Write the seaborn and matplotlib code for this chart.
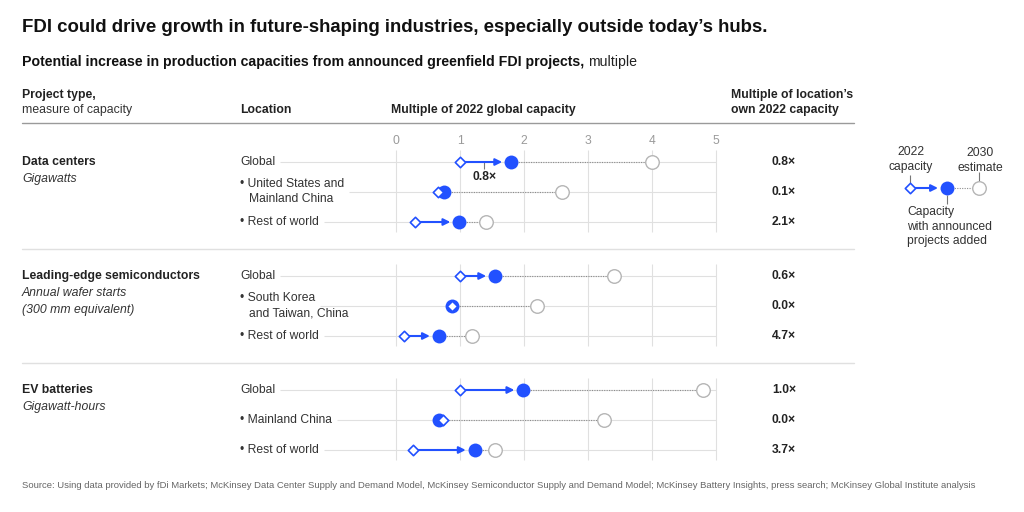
import numpy as np
import pandas as pd
import matplotlib
matplotlib.use("Agg")
import matplotlib.pyplot as plt
import seaborn as sns

# ---- data --------------------------------------------------------------
project_types = ["Data centers", "Leading-edge semiconductors", "EV batteries"]
capacity_units = [["Gigawatts"],
                  ["Annual wafer starts", "(300 mm equivalent)"],
                  ["Gigawatt-hours"]]
locations = [["Global"], ["• United States and", "Mainland China"], ["• Rest of world"],
             ["Global"], ["• South Korea", "and Taiwan, China"], ["• Rest of world"],
             ["Global"], ["• Mainland China"], ["• Rest of world"]]
group_of_row = [0, 0, 0, 1, 1, 1, 2, 2, 2]
cap_2022 = [1.0, 0.66, 0.3, 1.0, 0.87, 0.12, 1.0, 0.73, 0.26]
cap_added = [1.8, 0.75, 0.99, 1.55, 0.87, 0.67, 1.99, 0.67, 1.23]
est_2030 = [4.0, 2.6, 1.4, 3.4, 2.2, 1.18, 4.8, 3.25, 1.55]
own_multiple = ["0.8×", "0.1×", "2.1×", "0.6×", "0.0×", "4.7×", "1.0×", "0.0×", "3.7×"]
x_ticks = [0, 1, 2, 3, 4, 5]

BLUE = "#2251FF"
GREY = "#b5b5b5"
LINE = "#e0e0e0"
TXT = "#222222"
W, H = 1024, 512

sns.set_theme(style="white")
plt.rcParams["font.family"] = ["Liberation Sans", "DejaVu Sans"]


def px(x):
    return x / W


def py(y):
    return 1 - y / H


# row layout: 3 rows per group, groups separated by a gap
row_in_group = [0, 1, 2] * 3
slot = np.array([g * 3.8 + r for g, r in zip(group_of_row, row_in_group)])

frame = pd.DataFrame({"slot": slot, "c2022": cap_2022, "added": cap_added,
                      "est": est_2030})

fig = plt.figure(figsize=(W / 100, H / 100), dpi=100)
fig.patch.set_facecolor("white")
ax = fig.add_axes([0, 0, 1, 1])
ax.set_xlim(-396 / 64, (W - 396) / 64)
ax.set_ylim((H - 162) / 30, -162 / 30)
ax.axis("off")


def to_slot(ypix):
    return (ypix - 162) / 30


# ---- titles and headers -----------------------------------------------------
fig.text(px(22), py(28), "FDI could drive growth in future-shaping industries, "
         "especially outside today\u2019s hubs.", fontsize=13.4, weight="bold",
         color="#111111", va="center")
sub = fig.text(px(22), py(62), "Potential increase in production capacities from "
               "announced greenfield FDI projects,", fontsize=10.2, weight="bold",
               color="#111111", va="center")
fig.canvas.draw()
renderer = fig.canvas.get_renderer()
bb = sub.get_window_extent(renderer)
fig.text((bb.x1 + 4) / W, py(62), "multiple", fontsize=10.2, color="#222222",
         va="center")

fig.text(px(22), py(95), "Project type,", fontsize=8.8, weight="bold", color=TXT, va="center")
fig.text(px(22), py(110), "measure of capacity", fontsize=8.8, color="#333333", va="center")
fig.text(px(240), py(110), "Location", fontsize=8.8, weight="bold", color=TXT, va="center")
fig.text(px(391), py(110), "Multiple of 2022 global capacity", fontsize=8.8,
         weight="bold", color=TXT, va="center")
fig.text(px(731), py(95), "Multiple of location\u2019s", fontsize=8.8, weight="bold",
         color=TXT, va="center")
fig.text(px(731), py(110), "own 2022 capacity", fontsize=8.8, weight="bold",
         color=TXT, va="center")

ax.axhline(to_slot(122.5), xmin=px(22), xmax=px(854), color="#9a9a9a", lw=1.0)
for g in range(1, 3):
    ax.axhline((g - 1) * 3.8 + 2.9, xmin=px(22), xmax=px(854), color=LINE, lw=1.0)

for t in x_ticks:
    ax.text(t, to_slot(141), str(t), ha="center", va="center", fontsize=8.7,
            color="#9a9a9a")

# ---- group labels and vertical grid ------------------------------------------
for g, (name, units) in enumerate(zip(project_types, capacity_units)):
    y0 = g * 3.8
    ax.vlines(x_ticks, y0 - 0.4, y0 + 2.33, color=LINE, lw=0.8, zorder=1)
    fig.text(px(22), py(162 + g * 114), name, fontsize=8.8, weight="bold",
             color=TXT, va="center")
    for k, u in enumerate(units):
        fig.text(px(22), py(179 + g * 114 + k * 17), u, fontsize=8.8,
                 style="italic", color="#333333", va="center")

# ---- location labels, row lines and right-hand column ------------------------
fig.canvas.draw()
for i, (lab, s) in enumerate(zip(locations, slot)):
    ypix = 162 + s * 30
    if len(lab) == 1:
        t = fig.text(px(240), py(ypix), lab[0], fontsize=8.7, color="#333333", va="center")
    else:
        t = fig.text(px(240), py(ypix - 8), lab[0], fontsize=8.7, color="#333333", va="center")
        fig.text(px(249), py(ypix + 7), lab[1], fontsize=8.7, color="#333333", va="center")
    bb = t.get_window_extent(renderer)
    x_start = ax.transData.inverted().transform((bb.x1 + 5, 0))[0]
    ax.hlines(s, x_start, 5, color=LINE, lw=0.8, zorder=1)
    fig.text(px(784), py(ypix), own_multiple[i], fontsize=8.7, weight="bold",
             color=TXT, ha="center", va="center")

# ---- marks -------------------------------------------------------------------
for _, r in frame.iterrows():
    ax.plot([r["added"], r["est"]], [r["slot"], r["slot"]], color="#8c8c8c",
            lw=0.8, ls=(0, (1, 1.2)), zorder=2)
    if r["added"] - r["c2022"] > 0.2:
        ax.annotate("", xy=(r["added"], r["slot"]), xytext=(r["c2022"], r["slot"]),
                    arrowprops=dict(arrowstyle="-|>", color=BLUE, lw=1.5,
                                    shrinkA=3, shrinkB=6.5, mutation_scale=10),
                    zorder=3)

sns.scatterplot(data=frame, x="est", y="slot", ax=ax, s=95, marker="o",
                facecolor="white", edgecolor=GREY, linewidth=1.0, zorder=4)
sns.scatterplot(data=frame, x="added", y="slot", ax=ax, s=100, marker="o",
                color=BLUE, edgecolor=BLUE, linewidth=0, zorder=5)
sns.scatterplot(data=frame, x="c2022", y="slot", ax=ax, s=28, marker="D",
                facecolor="white", edgecolor=BLUE, linewidth=1.2, zorder=6)
ax.set_xlabel("")
ax.set_ylabel("")
ax.axis("off")

# callout on the first arrow
mid = (cap_2022[0] + cap_added[0]) / 2 - 0.03
ax.vlines(mid, slot[0], slot[0] + 0.22, color="#777777", lw=0.8, zorder=2)
ax.text(mid + 0.02, to_slot(177), own_multiple[0], ha="center", va="center",
        fontsize=8.7, weight="bold", color=TXT)

# ---- key ---------------------------------------------------------------------
key = fig.add_axes([px(900), py(230), px(90), (230 - 150) / H])
key.set_xlim(-10 / 37, 80 / 37)
key.set_ylim(1, 0)
key.axis("off")
kx = [0, 1, 1.865]
ky = 0.475
key.plot([kx[1], kx[2]], [ky, ky], color="#8c8c8c", lw=0.8, ls=(0, (1, 1.2)))
key.annotate("", xy=(kx[1], ky), xytext=(kx[0], ky),
             arrowprops=dict(arrowstyle="-|>", color=BLUE, lw=1.5,
                             shrinkA=3, shrinkB=6.5, mutation_scale=10))
key.scatter([kx[2]], [ky], s=95, facecolor="white", edgecolor=GREY, lw=1.0, zorder=4)
key.scatter([kx[1]], [ky], s=100, color=BLUE, lw=0, zorder=5)
key.scatter([kx[0]], [ky], s=28, marker="D", facecolor="white", edgecolor=BLUE,
            lw=1.2, zorder=6)
key.vlines(kx[0], 0.31, 0.41, color="#777777", lw=0.8)
key.vlines(kx[2], 0.27, 0.39, color="#777777", lw=0.8)
key.vlines(kx[1], 0.56, 0.68, color="#777777", lw=0.8)

fig.text(px(911), py(152), "2022", fontsize=8.7, color="#333333", ha="center", va="center")
fig.text(px(911), py(167), "capacity", fontsize=8.7, color="#333333", ha="center", va="center")
fig.text(px(980), py(153), "2030", fontsize=8.7, color="#333333", ha="center", va="center")
fig.text(px(980), py(168), "estimate", fontsize=8.7, color="#333333", ha="center", va="center")
for k, line in enumerate(["Capacity", "with announced", "projects added"]):
    fig.text(px(907), py(212 + k * 14.5), line, fontsize=8.7, color="#333333", va="center")

fig.text(px(22), py(486), "Source: Using data provided by fDi Markets; McKinsey Data Center "
         "Supply and Demand Model, McKinsey Semiconductor Supply and Demand Model; "
         "McKinsey Battery Insights, press search; McKinsey Global Institute analysis",
         fontsize=6.82, color="#666666", va="center")

fig.savefig("out.png", dpi=100, facecolor="white")
